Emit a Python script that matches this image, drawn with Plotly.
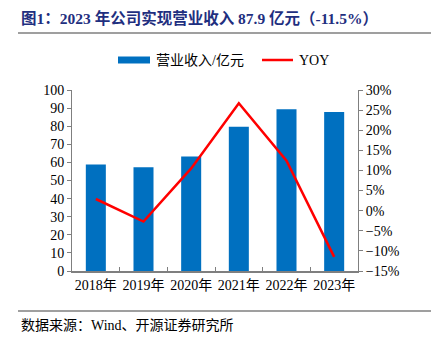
import plotly.graph_objects as go

years = ["2018年", "2019年", "2020年", "2021年", "2022年", "2023年"]
revenue = [58.9, 57.3, 63.2, 79.7, 89.3, 87.9]
yoy = [2.9, -2.7, 10.5, 26.7, 12.4, -11.5]

title_text = "图1：2023 年公司实现营业收入 87.9 亿元（-11.5%）"
source_text = "数据来源：Wind、开源证券研究所"
legend_names = ["营业收入/亿元", "YOY"]

W, H = 431, 344
L, R, T, B = 72, 358, 90, 271

def px(x):
    return (x - L) / (R - L)

def py(y):
    return (B - y) / (B - T)

FONT = "Liberation Serif, Noto Sans CJK SC, serif"
AX = "#7f7f7f"

fig = go.Figure()
fig.add_trace(go.Bar(x=years, y=revenue, name=legend_names[0],
                     marker=dict(color="#0070C0", line=dict(width=0)), yaxis="y"))
fig.add_trace(go.Scatter(x=years, y=yoy, name=legend_names[1], mode="lines",
                         line=dict(color="#FF0000", width=2.5), yaxis="y2"))

fig.update_layout(
    width=W, height=H,
    margin=dict(l=L, r=W - R, t=T, b=H - B),
    paper_bgcolor="white", plot_bgcolor="white",
    showlegend=False,
    bargap=0.58,
    font=dict(family=FONT, size=14, color="black"),
    xaxis=dict(showline=True, linecolor=AX, linewidth=1.5, ticks="inside",
               tickson="boundaries", ticklen=4, tickcolor=AX, tickangle=0,
               showgrid=False, tickfont=dict(family=FONT, size=14)),
    yaxis=dict(range=[0, 100], dtick=10, showline=True, linecolor=AX, linewidth=1,
               ticks="outside", ticklen=4, tickcolor=AX, showgrid=False,
               zeroline=False),
    yaxis2=dict(range=[-15, 30], dtick=5, ticksuffix="%", overlaying="y", side="right",
                showline=True, linecolor=AX, linewidth=1, ticks="outside", ticklen=4,
                tickcolor=AX, showgrid=False, zeroline=False),
)

shapes = [
    dict(type="line", xref="paper", yref="paper", x0=px(18), x1=px(431), y0=py(33), y1=py(33),
         line=dict(color="#7f7f7f", width=1.5)),
    dict(type="line", xref="paper", yref="paper", x0=px(18), x1=px(431), y0=py(311), y1=py(311),
         line=dict(color="#7f7f7f", width=1.5)),
    dict(type="rect", xref="paper", yref="paper", x0=px(118), x1=px(150), y0=py(63.5), y1=py(56.5),
         fillcolor="#0070C0", line=dict(width=0)),
    dict(type="line", xref="paper", yref="paper", x0=px(262), x1=px(293), y0=py(60), y1=py(60),
         line=dict(color="#FF0000", width=2.5)),
]
fig.update_layout(shapes=shapes)

anns = [
    dict(text="<b>" + title_text + "</b>", x=px(19), y=py(18), xanchor="left", yanchor="middle",
         font=dict(family=FONT, size=15.5, color="#1F2F80")),
    dict(text=legend_names[0], x=px(154), y=py(60), xanchor="left", yanchor="middle",
         font=dict(family=FONT, size=14)),
    dict(text=legend_names[1], x=px(297), y=py(60), xanchor="left", yanchor="middle",
         font=dict(family=FONT, size=14)),
    dict(text=source_text, x=px(19), y=py(325), xanchor="left", yanchor="middle",
         font=dict(family=FONT, size=14)),
]
for a in anns:
    a.update(xref="paper", yref="paper", showarrow=False)
fig.update_layout(annotations=anns)

fig.write_html("out.html")
